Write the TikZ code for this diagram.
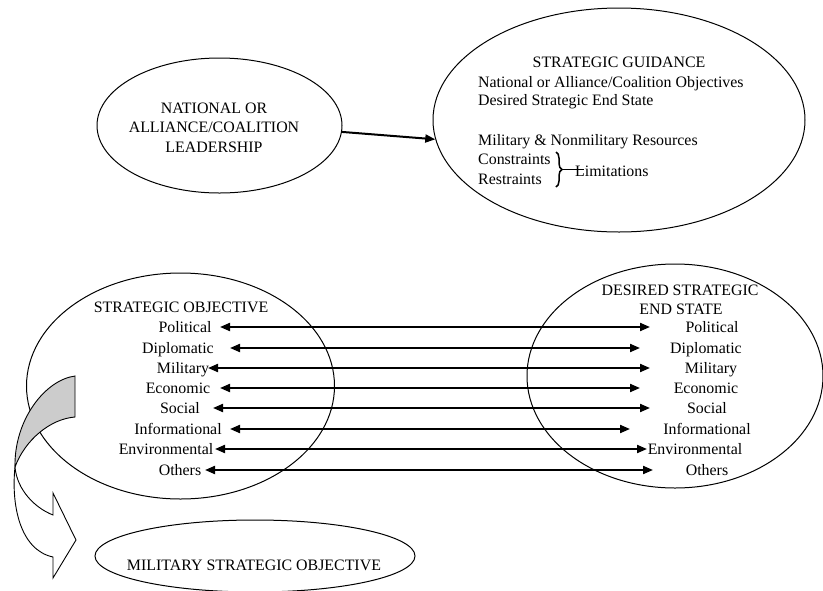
\documentclass[tikz,border=0pt]{standalone}
\usepackage{fontspec}
\setmainfont{Liberation Serif}
\usetikzlibrary{shapes.geometric, arrows.meta, decorations.pathreplacing}
\begin{document}
\begin{tikzpicture}[x=1pt,y=-1pt,
  ell/.style={draw, ellipse, line width=1pt, inner sep=0pt},
  txt/.style={inner sep=0pt, anchor=base, font=\fontsize{15.9}{19.5}\selectfont},
  txtl/.style={txt, anchor=base west},
  link/.style={line width=2pt, {Triangle[length=10pt,width=8pt]}-{Triangle[length=10pt,width=8pt]}},
  onelink/.style={line width=2pt, -{Triangle[length=10pt,width=8pt]}},
  ]
\useasboundingbox (0,0) rectangle (823,590);

% top ellipses
\node[ell, minimum width=245pt, minimum height=135pt] (lead) at (219.5,125.5) {};
\node[txt] (lead1) at (214,113) {NATIONAL OR};
\node[txt] (lead2) at (214,132.5) {ALLIANCE/COALITION};
\node[txt] (lead3) at (214,152) {LEADERSHIP};

\node[ell, minimum width=372pt, minimum height=224pt] (guid) at (619,120) {};
\node[txt] (g0) at (619,67.5) {STRATEGIC GUIDANCE};
\node[txtl] (g1) at (478,87.5) {National or Alliance/Coalition Objectives};
\node[txtl] (g2) at (478,105.5) {Desired Strategic End State};
\node[txtl] (g3) at (478,145.5) {Military \& Nonmilitary Resources};
\node[txtl] (g4) at (478,164.5) {Constraints};
\node[txtl] (g5) at (478,184.5) {Restraints};
\node[txtl] (g6) at (575,176) {Limitations};
\coordinate (bt) at (556,152);
\coordinate (bb) at (556,187);
\coordinate (btip) at (562,169.5);
\coordinate (bend) at (584,169.5);
\draw[line width=1.5pt, decorate, decoration={brace, amplitude=6pt}] (bt) -- (bb);
\draw[line width=1pt] (btip) -- (bend);

\draw[onelink] (lead.-3) -- (guid.186);

% bottom ellipses
\node[ell, minimum width=308pt, minimum height=226pt] (sobj) at (180.5,386) {};
\node[txt] (sobjt) at (181,312.5) {STRATEGIC OBJECTIVE};

\node[ell, minimum width=296pt, minimum height=224pt] (dese) at (675,376) {};
\node[txt] (dese1) at (680,295) {DESIRED STRATEGIC};
\node[txt] (dese2) at (681,314) {END STATE};

\foreach \n/\y/\a/\b/\c/\d/\t in {
  P/327/220/650/185/712/Political,
  D/348/230/640/178/706/Diplomatic,
  M/368/208/650/183/711/Military,
  E/388/220/640/178/706/Economic,
  S/408/213/650/180/707/Social,
  I/429/230/630/178/707/Informational,
  V/449/215/647/166/695/Environmental,
  O/470/205/653/180/707/Others}{
  \node[txt] (l\n) at (\c,\y+5.5) {\t};
  \node[txt] (r\n) at (\d,\y+5.5) {\t};
  \coordinate (la\n) at (\a,\y);
  \coordinate (ra\n) at (\b,\y);
  \draw[link] (la\n) -- (ra\n);
}

% military strategic objective
\node[ell, minimum width=320pt, minimum height=72pt] (mso) at (255,556) {};
\node[txt] (msot) at (254,570) {MILITARY STRATEGIC OBJECTIVE};

% curved arrow
\draw[line width=0.9pt, fill=gray!40] (75,376) -- (75,417)
  .. controls (50,419) and (25,440) .. (15,467)
  .. controls (14,420) and (45,380) .. (75,376) -- cycle;
\draw[line width=0.9pt, fill=white] (15,467)
  .. controls (17,490) and (35,508) .. (53,515)
  -- (53,493) -- (76,540) -- (53,578) -- (53,557)
  .. controls (20,550) and (11,505) .. (15,467) -- cycle;
\end{tikzpicture}
\end{document}
